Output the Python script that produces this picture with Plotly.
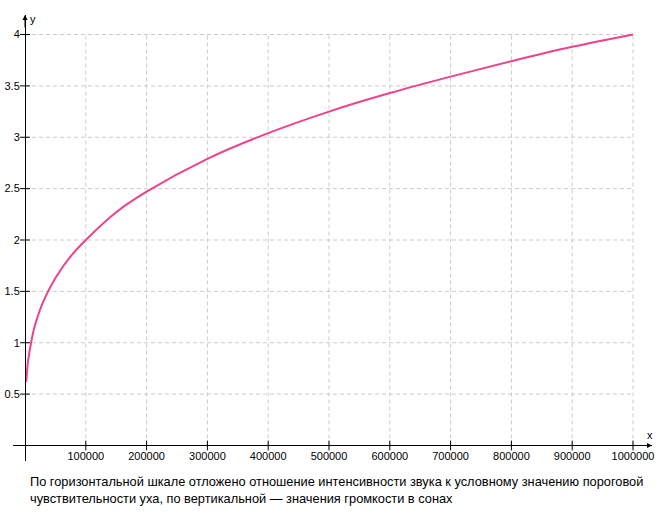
import plotly.graph_objects as go

# intensity ratio vs loudness (sones)
intensity = [2000, 3000, 5000, 7000, 10000, 15000, 20000, 30000, 50000, 75000,
             100000, 150000, 200000, 300000, 400000, 500000, 600000, 700000,
             800000, 900000, 1000000]
loudness = [0.62, 0.70, 0.82, 0.90, 1.00, 1.14, 1.24, 1.40, 1.63, 1.84,
            2.00, 2.27, 2.47, 2.79, 3.04, 3.25, 3.43, 3.59,
            3.74, 3.88, 4.00]

x_ticks = [100000, 200000, 300000, 400000, 500000, 600000, 700000, 800000, 900000, 1000000]
y_ticks = [0.5, 1, 1.5, 2, 2.5, 3, 3.5, 4]
y_labels = ['0.5', '1', '1.5', '2', '2.5', '3', '3.5', '4']

caption1 = 'По горизонтальной шкале отложено отношение интенсивности звука к условному значению пороговой'
caption2 = 'чувствительности уха, по вертикальной — значения громкости в сонах'

FONT = 'Liberation Sans'
GRID = 'rgb(204,204,194)'

fig = go.Figure()

# dashed grid only inside the 0..max box
for yt in y_ticks:
    fig.add_shape(type='line', xref='x', yref='y', x0=0, x1=max(x_ticks), y0=yt, y1=yt,
                  line=dict(color=GRID, width=1, dash='4px,3px'), layer='below')
for xt in x_ticks:
    fig.add_shape(type='line', xref='x', yref='y', x0=xt, x1=xt, y0=0, y1=max(y_ticks),
                  line=dict(color=GRID, width=1, dash='4px,3px'), layer='below')

fig.add_trace(go.Scatter(
    x=intensity, y=loudness, mode='lines',
    line=dict(color='rgb(238,66,138)', width=2, shape='spline'),
    hoverinfo='x+y'))

# tick marks crossing the axes
fig.add_trace(go.Scatter(
    x=x_ticks, y=[0] * len(x_ticks), mode='markers', hoverinfo='skip',
    marker=dict(symbol='line-ns', size=7, line=dict(color='black', width=1)),
    cliponaxis=False))
fig.add_trace(go.Scatter(
    x=[0] * len(y_ticks), y=y_ticks, mode='markers', hoverinfo='skip',
    marker=dict(symbol='line-ew', size=7, line=dict(color='black', width=1)),
    cliponaxis=False))

fig.update_layout(
    width=666, height=517,
    margin=dict(l=13, r=14, t=15, b=56),
    plot_bgcolor='white', paper_bgcolor='white',
    showlegend=False,
    font=dict(family=FONT, size=11, color='black'),
    xaxis=dict(
        range=[-19737, 1031250], anchor='free', position=0.0348,
        showline=True, linecolor='black', linewidth=1,
        showgrid=False, zeroline=False, ticks='',
        tickvals=x_ticks, ticktext=[str(v) for v in x_ticks],
        ticklabelstandoff=0, automargin=False,
    ),
    yaxis=dict(
        range=[-0.151, 4.19], anchor='free', position=0.01878,
        showline=True, linecolor='black', linewidth=1,
        showgrid=False, zeroline=False, ticks='',
        tickvals=y_ticks, ticktext=y_labels,
        ticklabelstandoff=3, automargin=False,
    ),
)

# axis arrows and names
fig.add_annotation(x=0, y=4.19, xref='x', yref='y', ax=0, ay=14, text='',
                   showarrow=True, arrowhead=2, arrowsize=1, arrowwidth=1, arrowcolor='black')
fig.add_annotation(x=1031250, y=0, xref='x', yref='y', ax=-14, ay=0, text='',
                   showarrow=True, arrowhead=2, arrowsize=1, arrowwidth=1, arrowcolor='black')
fig.add_annotation(x=0.0313, y=0.992, xref='paper', yref='paper', text='y',
                   xanchor='center', yanchor='middle', showarrow=False, font=dict(size=11))
fig.add_annotation(x=0.997, y=0.058, xref='paper', yref='paper', text='x',
                   xanchor='center', yanchor='middle', showarrow=False, font=dict(size=11))

fig.add_annotation(x=0.0235, y=-0.047, xref='paper', yref='paper', text=caption1,
                   xanchor='left', yanchor='middle', showarrow=False, font=dict(size=12.8))
fig.add_annotation(x=0.0235, y=-0.0852, xref='paper', yref='paper', text=caption2,
                   xanchor='left', yanchor='middle', showarrow=False, font=dict(size=12.8))

# drop the browser's default body margin so the figure sits at the page corner
fig.write_html('out.html', config={'displayModeBar': False},
               post_script="document.body.style.margin='0';")
